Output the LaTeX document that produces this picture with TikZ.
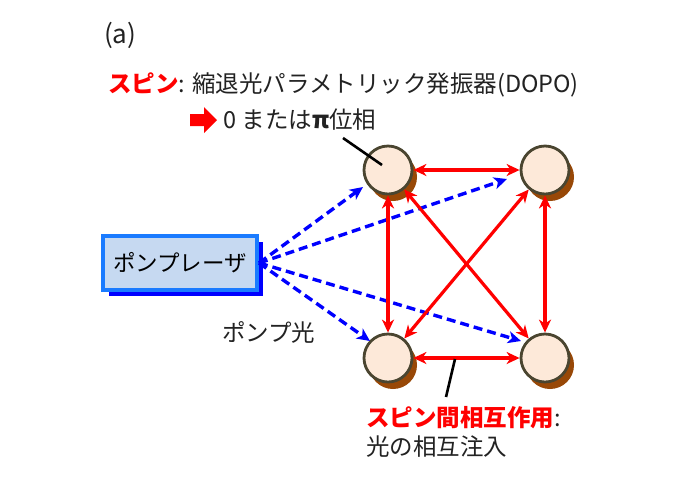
\documentclass[tikz,border=0pt]{standalone}
\usepackage{fontspec}
\setmainfont{Noto Sans CJK JP}
\usetikzlibrary{arrows.meta,shadows}
\definecolor{spinfill}{HTML}{FDE9D9}
\definecolor{spinedge}{HTML}{4A4530}
\definecolor{spinshadow}{HTML}{984807}
\definecolor{laserfill}{HTML}{C6D9F1}
\definecolor{laseredge}{HTML}{1A7BFF}
\definecolor{pumpblue}{HTML}{0000FF}
\definecolor{txt}{HTML}{222222}
\tikzset{
  spin/.style={circle, minimum size=48pt, inner sep=0pt, fill=spinfill, draw=spinedge, line width=2.8pt,
    drop shadow={shadow xshift=5pt, shadow yshift=-7pt, fill=spinshadow, opacity=1}},
  laser/.style={rectangle, minimum width=154pt, minimum height=54pt, fill=laserfill, draw=laseredge, line width=3.5pt,
    drop shadow={shadow xshift=6pt, shadow yshift=-6pt, fill=pumpblue, opacity=1}, font=\fontsize{22.5}{26}\selectfont},
  couple/.style={red, line width=3.2pt, {Stealth[length=13pt,width=12pt,inset=4pt]}-{Stealth[length=13pt,width=12pt,inset=4pt]}},
  pump/.style={pumpblue, line width=3.4pt, dash pattern=on 9pt off 5pt, -{Stealth[length=13pt,width=12pt,inset=3.5pt]}},
  lbl/.style={anchor=west, inner sep=0pt, text=txt, font=\fontsize{23.5}{27}\selectfont},
  leader/.style={black, line width=2.6pt}
}
\begin{document}
\begin{tikzpicture}[x=1pt,y=-1pt]
\useasboundingbox (0,0) rectangle (687,483);
% spins
\node[spin] (tl) at (388,170) {};
\node[spin] (tr) at (545,170) {};
\node[spin] (bl) at (388,358) {};
\node[spin] (br) at (545,358) {};
% laser
\node[laser] (las) at (180,263) {ポンプレーザ};
\coordinate (src) at (259,263);
% pump arrows
\draw[pump] (src) -- (363,187);
\draw[pump] (src) -- (507,179);
\draw[pump] (src) -- (370,341);
\draw[pump] (src) -- (521,341);
% couplings
\draw[couple] (tl) -- (tr);
\draw[couple] (bl) -- (br);
\draw[couple] (tl) -- (bl);
\draw[couple] (tr) -- (br);
\draw[couple] (tl) -- (br);
\draw[couple] (tr) -- (bl);
% texts
\node[lbl, font=\fontsize{26}{30}\selectfont] (a) at (104,35) {(a)};
\node[lbl] (title) at (108,85) {\textcolor{red}{\bfseries スピン}: 縮退光パラメトリック発振器(DOPO)};
\fill[red] (190,114) -- (204,114) -- (204,107) -- (217,120) -- (204,133) -- (204,126) -- (190,126) -- cycle;
\node[lbl] (phase) at (223,120) {0 または\textbf{π}位相};
\coordinate (pl) at (343,138);
\coordinate (pe) at (382,165);
\draw[leader] (pl) -- (pe);
\node[lbl] (pumplight) at (222,332) {ポンプ光};
\node[lbl] (inter) at (366,418) {\textcolor{red}{\bfseries スピン間相互作用}:};
\node[lbl] (inj) at (366,447) {光の相互注入};
\coordinate (il) at (455,359);
\coordinate (ie) at (446,397);
\draw[leader] (il) -- (ie);
\end{tikzpicture}
\end{document}
